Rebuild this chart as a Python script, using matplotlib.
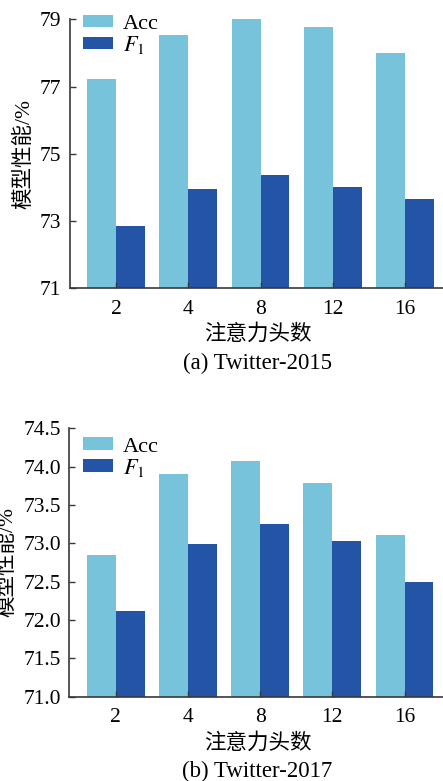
import numpy as np
import matplotlib
matplotlib.use('Agg')
import matplotlib.pyplot as plt

plt.rcParams['font.family'] = ['Liberation Serif', 'Noto Sans CJK SC']
plt.rcParams['mathtext.fontset'] = 'stix'
plt.rcParams['font.size'] = 15.5

heads = ['2', '4', '8', '12', '16']

# Twitter-2015
acc_2015 = [77.23, 78.54, 79.08, 78.78, 78.00]
f1_2015 = [72.85, 73.95, 74.37, 74.01, 73.65]

# Twitter-2017
acc_2017 = [72.85, 73.90, 74.07, 73.79, 73.11]
f1_2017 = [72.12, 72.99, 73.25, 73.03, 72.50]

acc_color = '#78C3DC'
f1_color = '#2454A5'
axis_color = '#383838'

fig = plt.figure(figsize=(4.43, 7.81), dpi=100)
ax1 = fig.add_axes([0.157, 0.6312, 0.85, 0.344])
ax2 = fig.add_axes([0.156, 0.108, 0.85, 0.3436])

panels = [
    (ax1, acc_2015, f1_2015, (71, 79), [71, 73, 75, 77, 79], '%d', '(a) Twitter-2015', 1.018),
    (ax2, acc_2017, f1_2017, (71, 74.5), np.arange(71, 74.51, 0.5), '%.1f', '(b) Twitter-2017', 0.966),
]

x = np.arange(len(heads))
w = 0.4
for ax, acc, f1, ylim, yticks, fmt, caption, leg_y in panels:
    ax.bar(x - w / 2, acc, w, color=acc_color, label='Acc')
    ax.bar(x + w / 2, f1, w, color=f1_color, label='$F_1$')
    ax.set_ylim(*ylim)
    ax.set_xlim(-0.645, 4.57)
    ax.set_yticks(yticks)
    ax.set_yticklabels([fmt % v for v in yticks])
    ax.set_xticks(x)
    ax.set_xticklabels(heads)
    for s in ['top', 'right']:
        ax.spines[s].set_visible(False)
    for s in ['left', 'bottom']:
        ax.spines[s].set_color(axis_color)
        ax.spines[s].set_linewidth(1.2)
    ax.tick_params(direction='in', length=4, width=1, color=axis_color, pad=8.5)
    ax.tick_params(axis='y', pad=6)
    ax.set_xlabel('注意力头数', fontsize=15.5, labelpad=4)
    ax.set_ylabel('模型性能/%', fontsize=15.5)
    ax.text(0.5, -0.28, caption, transform=ax.transAxes, ha='center', va='center', fontsize=16.5)
    ax.legend(loc='upper left', bbox_to_anchor=(0.036, leg_y), frameon=False, fontsize=16,
              borderaxespad=0, borderpad=0,
              handlelength=1.35, handleheight=0.48, labelspacing=0.0, handletextpad=0.45)

fig.savefig('out.png', dpi=100)
